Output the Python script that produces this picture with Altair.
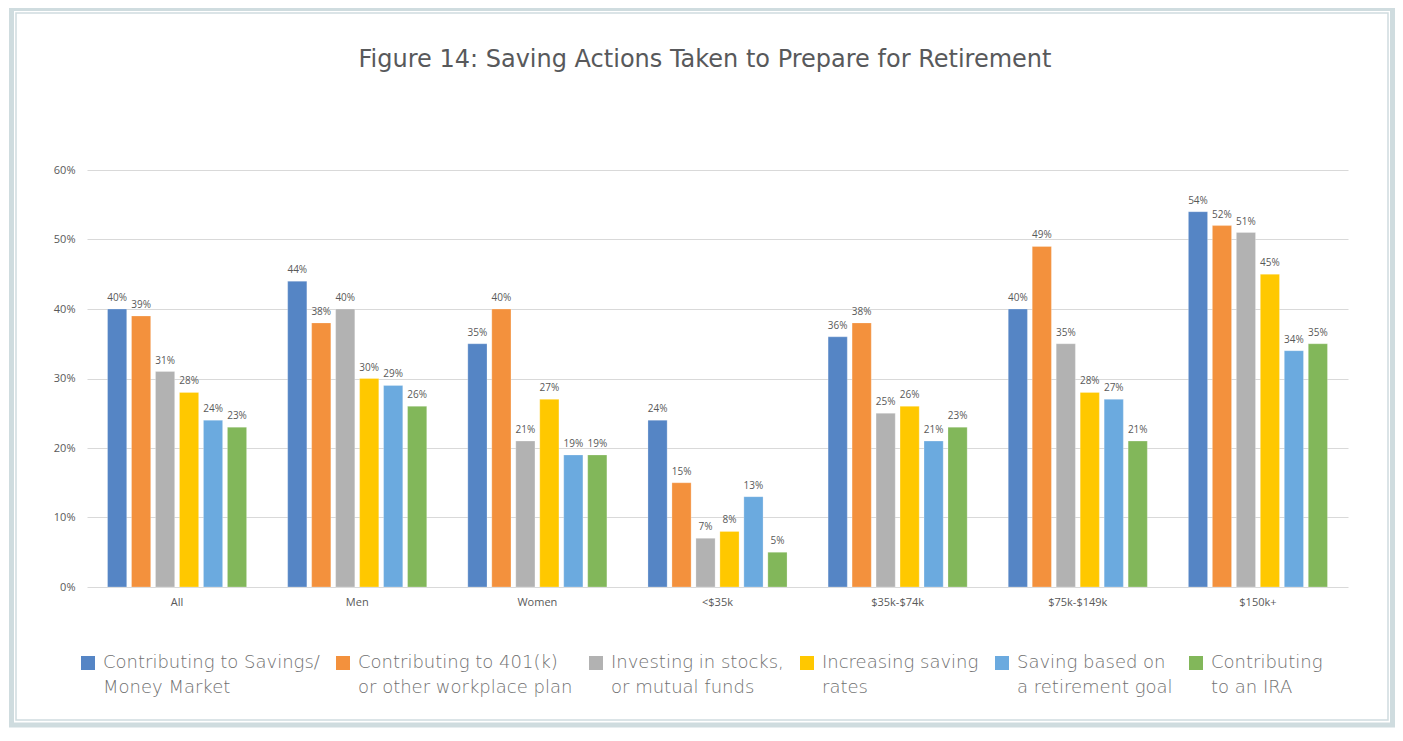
import altair as alt
import pandas as pd

title_text = "Figure 14: Saving Actions Taken to Prepare for Retirement"
categories = ["All", "Men", "Women", "<$35k", "$35k-$74k", "$75k-$149k", "$150k+"]
series = [
    "Contributing to Savings/|Money Market",
    "Contributing to 401(k)|or other workplace plan",
    "Investing in stocks,|or mutual funds",
    "Increasing saving|rates",
    "Saving based on|a retirement goal",
    "Contributing|to an IRA",
]
savings_mm = [40, 44, 35, 24, 36, 40, 54]
workplace_401k = [39, 38, 40, 15, 38, 49, 52]
stocks_funds = [31, 40, 21, 7, 25, 35, 51]
saving_rates = [28, 30, 27, 8, 26, 28, 45]
retirement_goal = [24, 29, 19, 13, 21, 27, 34]
ira = [23, 26, 19, 5, 23, 21, 35]
colors = ["#5585C5", "#F3913D", "#B2B2B2", "#FFC800", "#6BAADF", "#82B75A"]

values = [savings_mm, workplace_401k, stocks_funds, saving_rates, retirement_goal, ira]
rows = []
for s, vals in zip(series, values):
    for c, v in zip(categories, vals):
        rows.append({"category": c, "series": s, "value": v / 100.0})
df = pd.DataFrame(rows)

W, H = 1261, 417
grey_text = "#595959"

base = alt.Chart(df).encode(
    x=alt.X(
        "category:N",
        sort=categories,
        scale=alt.Scale(paddingInner=0.228, paddingOuter=0.114),
        axis=alt.Axis(
            title=None, labelAngle=0, labelFontSize=11, labelColor=grey_text,
            labelFont="Open Sans", ticks=False, domain=False, labelPadding=9,
        ),
    ),
    xOffset=alt.XOffset("series:N", sort=series,
                        scale=alt.Scale(paddingInner=0.2, paddingOuter=0)),
)

bars = base.mark_bar(stroke="white", strokeWidth=0.5, strokeOpacity=0.5).encode(
    y=alt.Y(
        "value:Q",
        scale=alt.Scale(domain=[0, 0.6], nice=False),
        axis=alt.Axis(
            title=None, format=".0%", values=[0, 0.1, 0.2, 0.3, 0.4, 0.5, 0.6],
            labelFontSize=11, labelColor=grey_text, labelFont="Open Sans",
            ticks=False, domain=False, gridColor="#D9D9D9", labelPadding=12,
        ),
    ),
    color=alt.Color(
        "series:N",
        sort=series,
        scale=alt.Scale(domain=series, range=colors),
        legend=alt.Legend(
            title=None, orient="none", legendX=-8, legendY=484,
            direction="horizontal", columns=6, symbolType="square",
            symbolSize=196, symbolStrokeWidth=0, labelFontSize=18,
            labelColor="#707070", labelFont="DejaVu Sans", labelFontWeight=200,
            labelLimit=400, labelOffset=6, columnPadding=14,
            labelBaseline="middle",
            labelExpr="split(datum.label, '|')",
        ),
    ),
)

labels = base.mark_text(
    baseline="bottom", dy=-6, fontSize=10, color=grey_text, font="Open Sans"
).encode(
    y=alt.Y("value:Q"),
    text=alt.Text("value:Q", format=".0%"),
)

one = pd.DataFrame({"t": [title_text]})
title = alt.Chart(one).mark_text(
    fontSize=24, color="#58595B", font="DejaVu Sans",
    align="center", baseline="alphabetic",
).encode(x=alt.value(618), y=alt.value(-103), text="t:N")

outer = alt.Chart(one).mark_rect(
    fillOpacity=0, stroke="#CFDCDF", strokeWidth=5
).encode(x=alt.value(-75.5), x2=alt.value(1305.5), y=alt.value(-161.5), y2=alt.value(555))
inner = alt.Chart(one).mark_rect(
    fillOpacity=0, stroke="#CFDCDF", strokeWidth=1.5
).encode(x=alt.value(-71), x2=alt.value(1301), y=alt.value(-157), y2=alt.value(550))

chart = alt.layer(outer, inner, title, bars, labels).properties(
    width=W, height=H,
    autosize=alt.AutoSizeParams(type="none"),
    padding={"left": 79, "top": 162, "right": 47, "bottom": 141},
).configure(
    background="white",
    style={"guide-label": {"lineHeight": 25}},
    view={"stroke": "transparent", "strokeWidth": 0},
)

chart.save("out.html", embed_options={"renderer": "svg", "actions": False})
